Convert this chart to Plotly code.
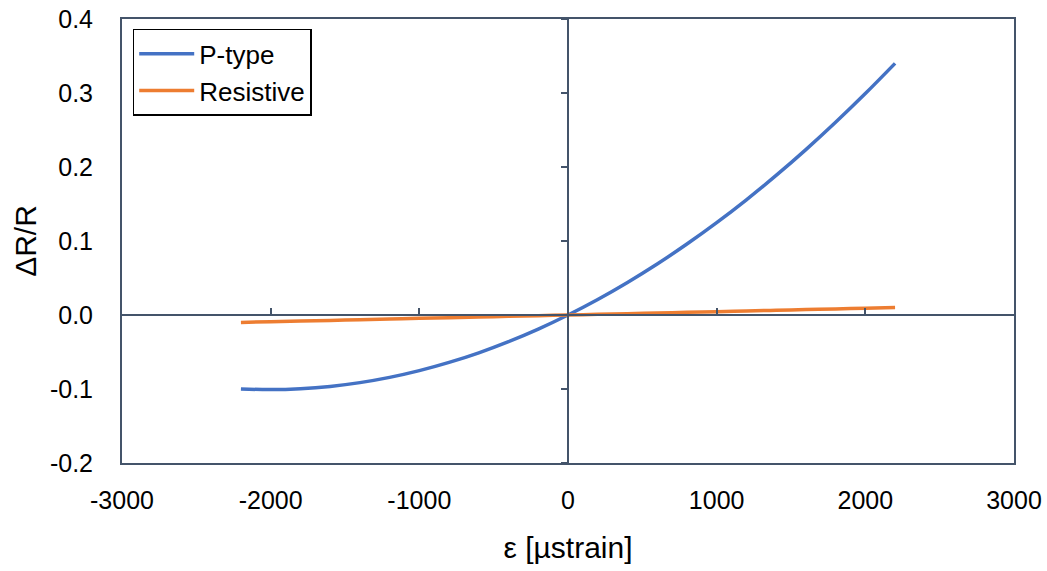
import plotly.graph_objects as go

# Strain values [µstrain]
strain = [-2200, -2000, -1800, -1600, -1400, -1200, -1000, -800, -600, -400, -200,
          0, 200, 400, 600, 800, 1000, 1200, 1400, 1600, 1800, 2000, 2200]

# Relative resistance change for a P-type piezoresistive gauge
p_type = [-0.100, -0.1008, -0.0996, -0.0965, -0.0914, -0.0843, -0.0752, -0.0641,
          -0.0511, -0.0360, -0.0190, 0.0, 0.0210, 0.0440, 0.0689, 0.0959, 0.1248,
          0.1557, 0.1886, 0.2235, 0.2604, 0.2992, 0.3400]

# Relative resistance change for a metallic resistive gauge
resistive = [-0.0100, -0.0091, -0.0082, -0.0073, -0.0064, -0.0055, -0.0045, -0.0036,
             -0.0027, -0.0018, -0.0009, 0.0, 0.0009, 0.0018, 0.0027, 0.0036, 0.0045,
             0.0055, 0.0064, 0.0073, 0.0082, 0.0091, 0.0100]

x_ticks = [-3000, -2000, -1000, 0, 1000, 2000, 3000]
x_tick_labels = ["-3000", "-2000", "-1000", "0", "1000", "2000", "3000"]
y_ticks = [-0.2, -0.1, 0.0, 0.1, 0.2, 0.3, 0.4]
y_tick_labels = ["-0.2", "-0.1", "0.0", "0.1", "0.2", "0.3", "0.4"]

X_RANGE = [-3000, 3000]
Y_RANGE = [-0.2, 0.4]
AXIS_COLOR = "#44546A"
FONT = "Liberation Sans, Arial, sans-serif"
TICK_SIZE = 25
TITLE_SIZE = 30

fig = go.Figure()

# Invisible trace that carries the axes crossing at the origin
fig.add_trace(go.Scatter(x=X_RANGE, y=Y_RANGE, mode="markers", xaxis="x2", yaxis="y2",
                         marker=dict(opacity=0), showlegend=False, hoverinfo="skip"))

fig.add_trace(go.Scatter(x=strain, y=p_type, mode="lines", name="P-type",
                         line=dict(color="#4472C4", width=3.5, shape="spline")))
fig.add_trace(go.Scatter(x=strain, y=resistive, mode="lines", name="Resistive",
                         line=dict(color="#ED7D31", width=3.5, shape="spline")))

y_zero_frac = (0 - Y_RANGE[0]) / (Y_RANGE[1] - Y_RANGE[0])
x_zero_frac = (0 - X_RANGE[0]) / (X_RANGE[1] - X_RANGE[0])

fig.update_layout(
    width=1047, height=571,
    margin=dict(l=122, r=33, t=19, b=108, autoexpand=False),
    paper_bgcolor="white", plot_bgcolor="white",
    font=dict(family=FONT, size=TICK_SIZE, color="black"),
    showlegend=True,
    legend=dict(x=0.012, y=0.978, xanchor="left", yanchor="top",
                bordercolor="black", borderwidth=1.5, bgcolor="white",
                font=dict(size=26), itemwidth=55, tracegroupgap=0),
    xaxis=dict(range=X_RANGE, tickvals=x_ticks, ticktext=x_tick_labels, ticks="",
               showgrid=False, zeroline=False, showline=True, mirror=True,
               linecolor=AXIS_COLOR, linewidth=2, tickfont=dict(size=TICK_SIZE),
               ticklabelstandoff=14, automargin=False,
               title=dict(text="ε [µstrain]", font=dict(size=TITLE_SIZE), standoff=24)),
    yaxis=dict(range=Y_RANGE, tickvals=y_ticks, ticktext=y_tick_labels, ticks="",
               showgrid=False, zeroline=False, showline=True, mirror=True,
               linecolor=AXIS_COLOR, linewidth=2, tickfont=dict(size=TICK_SIZE),
               ticklabelstandoff=22, automargin=False,
               title=dict(text="ΔR/R", font=dict(size=TITLE_SIZE), standoff=4)),
    xaxis2=dict(range=X_RANGE, tickvals=x_ticks, overlaying="x", anchor="free",
                position=y_zero_frac, side="bottom", ticks="inside", ticklen=6,
                tickcolor=AXIS_COLOR, tickwidth=1.5, showticklabels=False, showgrid=False,
                zeroline=False, showline=True, linecolor=AXIS_COLOR, linewidth=2),
    yaxis2=dict(range=Y_RANGE, tickvals=y_ticks, overlaying="y", anchor="free",
                position=x_zero_frac, side="left", ticks="outside", ticklen=6,
                tickcolor=AXIS_COLOR, tickwidth=1.5, showticklabels=False, showgrid=False,
                zeroline=False, showline=True, linecolor=AXIS_COLOR, linewidth=2),
)

fig.write_html("out.html")
